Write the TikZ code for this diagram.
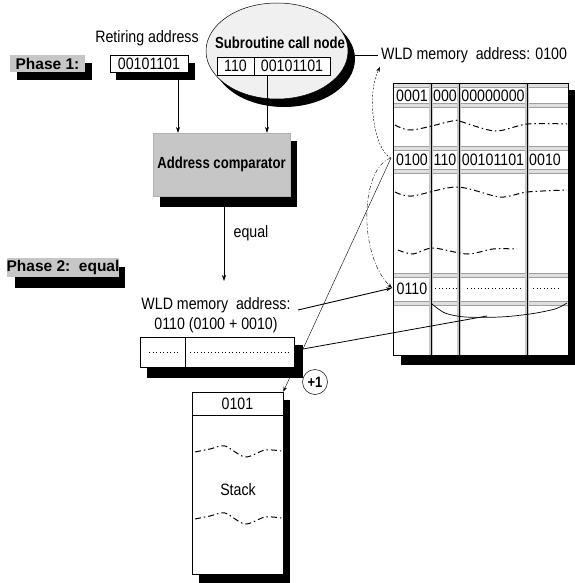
\documentclass[tikz,border=0pt]{standalone}
\usepackage{fontspec}
\setmainfont{Liberation Sans}
\newfontfamily\nf[FakeStretch=0.86]{Liberation Sans}
\newfontfamily\nb[FakeStretch=0.82]{Liberation Sans}
\usetikzlibrary{arrows.meta,shapes.geometric}
\begin{document}
\begin{tikzpicture}[x=1pt,y=-1pt,
  txt/.style={font=\nf\fontsize{16.5}{18}\selectfont, inner sep=0pt},
  btxt/.style={font=\nb\bfseries\fontsize{16}{18}\selectfont, inner sep=0pt},
  lbl/.style={font=\bfseries\fontsize{15.5}{17}\selectfont, fill=gray!45, inner sep=0pt},
  cell/.style={txt, draw=black, fill=white, line width=0.5pt},
  shade/.style={fill=black},
  arr/.style={-{Stealth[length=6pt,width=4pt]}, line width=0.6pt},
  arrs/.style={-{Stealth[length=5pt,width=3.5pt]}, line width=0.4pt},
  wave/.style={line width=1pt, dash pattern=on 6pt off 3pt on 1.5pt off 3pt},
  band/.style={draw=gray!75, fill=gray!25, line width=0.6pt},
  dotrow/.style={line width=1pt, dash pattern=on 1.2pt off 2.3pt}]
\useasboundingbox (0,0) rectangle (574,583);

% ---------- Phase 1 ----------
\fill[shade] (17,63) rectangle (92,80);
\node[lbl, minimum width=75, minimum height=17] (ph1) at (47.5,63.5) {Phase 1:};

% ---------- Retiring address ----------
\node[txt] (retlbl) at (147,38) {Retiring address};
\fill[shade] (116,63) rectangle (195,80);
\node[cell, minimum width=78, minimum height=17] (ret) at (149,63.5) {00101101};

% ---------- Subroutine call node ----------
\fill[shade] (284,59) ellipse [x radius=71, y radius=48];
\node[ellipse, draw, fill=gray!12, line width=0.5pt, minimum width=142, minimum height=96] (scn) at (277,51) {};
\node[btxt] (scnlbl) at (280,43) {Subroutine call node};
\node[cell, minimum width=37, minimum height=18] (c110) at (235.5,66) {110};
\node[cell, minimum width=76, minimum height=18] (caddr) at (292,66) {00101101};

% ---------- WLD memory address top ----------
\node[txt, anchor=west] (wldtop) at (381,55) {WLD memory\ \ address: 0100};
\coordinate (sce) at (355,55);
\draw[line width=0.5pt] (sce) -- ([xshift=-3]wldtop.west);

% ---------- Address comparator ----------
\fill[shade] (160,141) rectangle (297,207);
\node[btxt, draw=gray!60, fill=gray!45, minimum width=137, minimum height=63] (comp) at (221.5,164.5) {Address comparator};

\coordinate (a1) at (178,80);
\coordinate (a2) at (267,75);
\draw[arr] (a1) -- (a1 |- comp.north);
\draw[arr] (a2) -- (a2 |- comp.north);

\coordinate (a3) at (224,207);
\coordinate (a4) at (224,281);
\draw[arr] (a3) -- (a4);
\node[txt] (eq) at (251,233) {equal};

% ---------- Phase 2 ----------
\fill[shade] (15,267) rectangle (125,288);
\node[lbl, minimum width=110, minimum height=19] (ph2) at (63,267.5) {Phase 2:\ \ equal};

% ---------- WLD memory address 0110 ----------
\node[txt] (wld1) at (216,305) {WLD memory\ \ address:};
\node[txt] (wld2) at (216,325) {0110 (0100 + 0010)};
\fill[shade] (147,345) rectangle (303,378);
\node[draw, fill=white, line width=0.5pt, minimum width=154, minimum height=30] (wbox) at (217,352) {};
\draw[line width=0.5pt] (185,337) -- (185,367);
\draw[dotrow] (149,352) -- (178,352);
\draw[dotrow] (190,352) -- (289,352);

% ---------- +1 ----------
\node[draw, circle, line width=0.5pt, minimum size=25, inner sep=0pt, font=\bfseries\nf\fontsize{15}{17}\selectfont] (plus) at (315,382) {+1};

% ---------- Stack ----------
\fill[shade] (283,400) rectangle (290,583);
\fill[shade] (199,574) rectangle (290,583);
\node[draw, fill=white, line width=0.5pt, minimum width=91, minimum height=182] (stack) at (237.5,483) {};
\draw[line width=0.5pt] (192,415) -- (283,415);
\node[txt] (s0101) at (237.5,403.5) {0101};
\node[txt] (stk) at (238,490) {Stack};
\draw[wave] plot[smooth] coordinates {(195,452) (210,449) (225,446) (245,457) (265,450) (281,451)};
\draw[wave] plot[smooth] coordinates {(195,519) (210,516) (225,513) (245,524) (265,517) (281,518)};

% ---------- WLD memory table ----------
\fill[shade] (401,90) rectangle (575,365);
\fill[white] (393,83) rectangle (568,355);
\foreach \y in {83,103,146,169,273,301} {
  \filldraw[band] (393,\y) rectangle (568,\y+4);
}
\foreach \x in {431,459,527} {
  \fill[gray!45] (\x-1.6,83) rectangle (\x+1.6,355);
  \draw[line width=0.7pt] (\x,83) -- (\x,355);
}
\draw[line width=0.6pt] (393,83) rectangle (568,355);

\node[txt] (t11) at (412,95.5) {0001};
\node[txt] (t12) at (445,95.5) {000};
\node[txt] (t13) at (493,95.5) {00000000};
\node[txt] (t21) at (412,159.5) {0100};
\node[txt] (t22) at (445,159.5) {110};
\node[txt] (t23) at (493,159.5) {00101101};
\node[txt] (t24) at (545,159.5) {0010};
\node[txt] (t31) at (412,289) {0110};
\draw[dotrow] (435,288) -- (458,288);
\draw[dotrow] (467,288) -- (522,288);
\draw[dotrow] (533,288) -- (558,288);

\draw[wave] plot[smooth] coordinates {(395,125) (412,130) (452,121) (459,121) (495,131) (527,124) (567,124)};
\draw[wave] plot[smooth] coordinates {(395,192) (412,196) (457,187) (500,197) (527,192) (567,190)};
\draw[wave] plot[smooth] coordinates {(398,250) (413,254) (433,248) (467,254) (493,249) (517,249)};

% curve under 0110 row
\draw[line width=0.7pt] plot[smooth] coordinates {(432,304) (445,313) (465,317) (500,317) (530,314) (555,309) (567,303)};

% ---------- connectors ----------
\coordinate (p0100) at (391,158);
\coordinate (p0110) at (392,288);
\coordinate (wtip) at (380,67);
\draw[arrs, dash pattern=on 2pt off 1.5pt] (p0100) .. controls (374,150) and (366,95) .. (wtip);
\draw[arrs, dash pattern=on 4pt off 2pt on 1pt off 2pt] (p0100) .. controls (360,168) and (358,255) .. (p0110);
\draw[arrs] (p0100) -- (stack.north east);
\coordinate (wl) at (298,310);
\draw[arr, line width=0.9pt] (wl) -- (p0110);
\coordinate (wbr) at (303,349);
\coordinate (cj) at (487,316);
\draw[line width=0.8pt] (wbr) -- (cj);
\end{tikzpicture}
\end{document}
